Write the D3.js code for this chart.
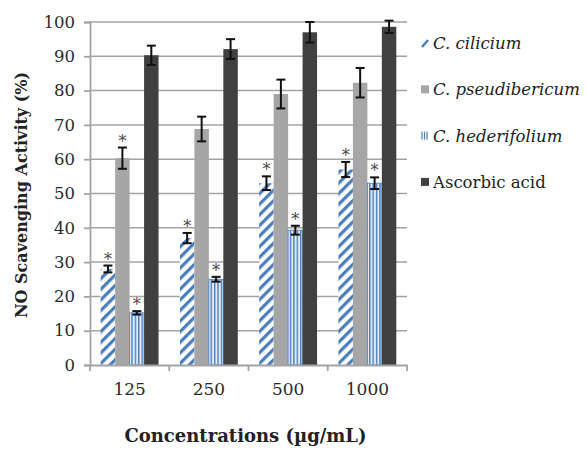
<!DOCTYPE html>
<html>
<head>
<meta charset="utf-8">
<script src="https://cdn.jsdelivr.net/npm/d3@7"></script>
<style>
  body { margin: 0; background: #fff; }
  svg { display: block; }
  text { font-family: "DejaVu Serif", serif; fill: #222; }
</style>
</head>
<body>
<svg></svg>
<script>
/* chart data */
var concentrations = ["125", "250", "500", "1000"];
var seriesNames = ["C. cilicium", "C. pseudibericum", "C. hederifolium", "Ascorbic acid"];
var cilicium = [28, 37, 53, 57];
var ciliciumErr = [1, 1.5, 2, 2.2];
var pseudibericum = [60.3, 68.8, 79, 82.3];
var pseudibericumErr = [3.1, 3.6, 4.2, 4.3];
var hederifolium = [15.2, 25, 39.3, 53];
var hederifoliumErr = [0.5, 0.7, 1.3, 1.7];
var ascorbic = [90.3, 92.1, 97, 98.6];
var ascorbicErr = [2.8, 2.9, 3, 1.8];
var stars = [[1, 1, 1, 1], [1, 0, 0, 0], [1, 1, 1, 1], [0, 0, 0, 0]];
var yTicks = [0, 10, 20, 30, 40, 50, 60, 70, 80, 90, 100];

var values = [cilicium, pseudibericum, hederifolium, ascorbic];
var errors = [ciliciumErr, pseudibericumErr, hederifoliumErr, ascorbicErr];

/* svg setting */
var svgWidth = 587;
var svgHeight = 452;
var margin = {top: 22, right: 180, bottom: 87, left: 90};
var width = svgWidth - margin.left - margin.right;
var height = svgHeight - margin.top - margin.bottom;
var gridColor = "#a3a3a3";
var blue = "#4a7ebb";
var serif = '"DejaVu Serif", serif';

var svg = d3.select("svg")
    .attr("width", svgWidth)
    .attr("height", svgHeight);

/* fill patterns */
var defs = svg.append("defs");
var diag = defs.append("pattern")
    .attr("id", "diag")
    .attr("patternUnits", "userSpaceOnUse")
    .attr("width", 7.5)
    .attr("height", 7.5)
    .attr("patternTransform", "rotate(45)");
diag.append("rect").attr("width", 7.5).attr("height", 7.5).attr("fill", "#fff");
diag.append("rect").attr("width", 3.2).attr("height", 7.5).attr("fill", blue);

var vert = defs.append("pattern")
    .attr("id", "vert")
    .attr("patternUnits", "userSpaceOnUse")
    .attr("width", 3.4)
    .attr("height", 10);
vert.append("rect").attr("width", 3.4).attr("height", 10).attr("fill", "#e4ecf6");
vert.append("rect").attr("width", 1.4).attr("height", 10).attr("fill", blue);

var fills = ["url(#diag)", "#a6a6a6", "url(#vert)", "#404040"];

/* scales */
var x0 = d3.scaleBand()
    .domain(concentrations)
    .range([0, width])
    .paddingInner(0.27)
    .paddingOuter(0.135);
var x1 = d3.scaleBand()
    .domain(d3.range(seriesNames.length))
    .range([0, x0.bandwidth()]);
var y = d3.scaleLinear()
    .domain([0, 100])
    .range([height, 0]);

var g = svg.append("g")
    .attr("transform", translate(margin.left, margin.top));

/* gridlines */
g.append("g")
  .selectAll("line")
  .data(yTicks.slice(1))
  .enter()
  .append("line")
    .attr("x1", 0)
    .attr("x2", width)
    .attr("y1", function(d){ return y(d); })
    .attr("y2", function(d){ return y(d); })
    .attr("stroke", gridColor)
    .attr("stroke-width", 1.5);

/* bars */
var groups = g.selectAll(".group")
    .data(concentrations)
    .enter()
    .append("g")
    .attr("class", "group")
    .attr("transform", function(d){ return translate(x0(d), 0); });

groups.each(function(c, ci){
  var grp = d3.select(this);
  seriesNames.forEach(function(s, si){
    var v = values[si][ci];
    var e = errors[si][ci];
    var bx = x1(si);
    var bw = x1.bandwidth();
    var cx = bx + bw / 2;
    grp.append("rect")
        .attr("x", bx)
        .attr("y", y(v))
        .attr("width", bw)
        .attr("height", height - y(v))
        .attr("fill", fills[si])
        .attr("stroke", si == 2 ? blue : "none")
        .attr("stroke-width", 0.8);
    // error bar
    var eb = grp.append("g")
        .attr("stroke", "#111")
        .attr("stroke-width", 2);
    eb.append("line").attr("x1", cx).attr("x2", cx).attr("y1", y(v + e)).attr("y2", y(v - e));
    eb.append("line").attr("x1", cx - 4.5).attr("x2", cx + 4.5).attr("y1", y(v + e)).attr("y2", y(v + e));
    eb.append("line").attr("x1", cx - 4.5).attr("x2", cx + 4.5).attr("y1", y(v - e)).attr("y2", y(v - e));
    if (stars[si][ci]) {
      grp.append("text")
          .attr("x", cx)
          .attr("y", y(v + e) - 1)
          .attr("text-anchor", "middle")
          .style("font-size", "16px")
          .style("fill", "#444")
          .text("*");
    }
  });
});

/* axes */
var yAxis = g.append("g")
    .call(d3.axisLeft(y).tickValues(yTicks).tickSize(6).tickPadding(9));
yAxis.selectAll("text").style("font-size", "16.5px").style("fill", "#2a2a2a");

var xAxis = g.append("g")
    .attr("transform", translate(0, height))
    .call(d3.axisBottom(x0).tickSize(0).tickPadding(18));
xAxis.selectAll("text").style("font-size", "17px").style("fill", "#2a2a2a");
// category boundary ticks
xAxis.selectAll(".bound")
    .data(d3.range(concentrations.length + 1))
    .enter()
    .append("line")
    .attr("class", "bound")
    .attr("x1", function(d){ return d * x0.step(); })
    .attr("x2", function(d){ return d * x0.step(); })
    .attr("y1", 0)
    .attr("y2", 6);

svg.selectAll(".domain, .tick line, .bound")
    .attr("stroke", gridColor)
    .attr("stroke-width", 1.8);

/* axis titles */
svg.append("text")
    .attr("x", margin.left + width / 2 - 3)
    .attr("y", 442)
    .attr("text-anchor", "middle")
    .style("font-family", serif)
    .style("font-size", "18px")
    .style("font-weight", "bold")
    .text("Concentrations (\u00b5g/mL)");

svg.append("text")
    .attr("transform", "translate(27,195) rotate(-90)")
    .attr("text-anchor", "middle")
    .style("font-family", serif)
    .style("font-size", "16px")
    .style("font-weight", "bold")
    .text("NO  Scavenging Activity (%)");

/* legend */
var legend = svg.append("g")
    .attr("transform", translate(421, 43));
seriesNames.forEach(function(s, i){
  var row = legend.append("g").attr("transform", translate(0, i * 46.3));
  if (i == 0) {
    row.append("line")
        .attr("x1", 1).attr("y1", 4).attr("x2", 7).attr("y2", -3)
        .attr("stroke", blue).attr("stroke-width", 2.5);
  } else if (i == 2) {
    [1, 3.5, 6].forEach(function(px){
      row.append("line")
          .attr("x1", px).attr("x2", px).attr("y1", -4).attr("y2", 4)
          .attr("stroke", blue).attr("stroke-width", 1.2);
    });
  } else {
    row.append("rect")
        .attr("x", 0).attr("y", -4).attr("width", 8).attr("height", 8)
        .attr("fill", fills[i]);
  }
  row.append("text")
      .attr("x", 12)
      .attr("y", 6)
      .style("font-family", serif)
      .style("font-size", "16.5px")
      .style("font-style", i < 3 ? "italic" : "normal")
      .text(s);
});

function translate(x, y) {
  return "translate(" + x + "," + y + ")";
}
</script>
</body>
</html>
